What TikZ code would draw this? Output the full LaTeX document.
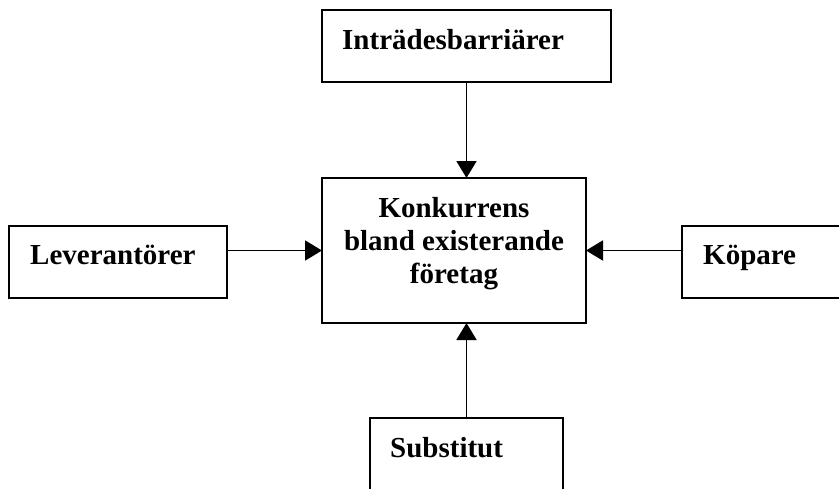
\documentclass[tikz,border=0pt]{standalone}
\usepackage{fontspec}
\setmainfont{Liberation Serif}
\usetikzlibrary{arrows.meta}
\begin{document}
\begin{tikzpicture}[x=1pt,y=-1pt,
  box/.style={draw,line width=2pt,inner sep=0pt,outer sep=0pt},
  lbl/.style={font=\fontsize{29}{33}\selectfont\bfseries,inner sep=0pt},
  conn/.style={line width=1.8pt,-{Triangle[length=17pt,width=20pt]}}]
\useasboundingbox (0,0) rectangle (839,488);
\clip (0,0) rectangle (839,488);
\node[box,minimum width=289pt,minimum height=72pt] (top) at (466.5,46) {};
\node[box,minimum width=264pt,minimum height=145pt] (center) at (454,250.5) {};
\node[box,minimum width=218pt,minimum height=72pt] (left) at (118,262) {};
\node[box,minimum width=178pt,minimum height=72pt] (right) at (771,262) {};
\node[box,minimum width=193pt,minimum height=92pt] (bottom) at (466.5,464) {};
\node[lbl,anchor=base west] (ttop) at (342,49) {Inträdesbarriärer};
\node[lbl,align=center,anchor=center] (tcenter) at (454,244) {Konkurrens\\bland existerande\\företag};
\node[lbl,anchor=base west] (tleft) at (30,264) {Leverantörer};
\node[lbl,anchor=base west] (tright) at (703,264) {Köpare};
\node[lbl,anchor=base west] (tbottom) at (390,457) {Substitut};
\draw[conn] (top.south) -- (top.south |- center.north);
\draw[conn] (left.east |- center.west) -- (center.west);
\draw[conn] (right.west |- center.east) -- (center.east);
\draw[conn] (bottom.north) -- (bottom.north |- center.south);
\end{tikzpicture}
\end{document}
